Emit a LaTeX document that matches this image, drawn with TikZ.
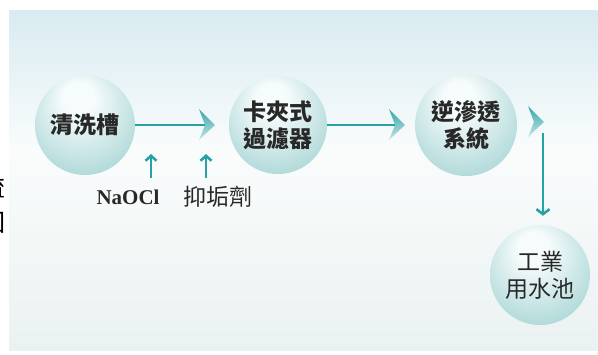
\documentclass[tikz,border=0pt]{standalone}
\usepackage{fontspec}
\setmainfont{Liberation Serif}
\newfontfamily\cjk{Noto Sans CJK TC}
\usetikzlibrary{arrows.meta}
\definecolor{flowc}{RGB}{38,162,166}
\definecolor{sphC}{RGB}{246,251,251}
\definecolor{sphM}{RGB}{158,208,208}
\definecolor{sphE}{RGB}{108,184,186}
\definecolor{bgtop}{RGB}{216,235,240}
\definecolor{bgmid}{RGB}{250,252,252}
\definecolor{bgbot}{RGB}{234,242,241}
\definecolor{txt}{RGB}{40,40,40}
\definecolor{chevT}{RGB}{50,165,168}
\definecolor{chevB}{RGB}{200,230,230}
\pgfdeclareradialshading{sphere}{\pgfpoint{-4bp}{16bp}}{color(0bp)=(sphC); color(8bp)=(sphC); color(38bp)=(sphM); color(50bp)=(sphE)}
\tikzset{
  ball/.style={circle, shading=sphere, inner sep=0pt, minimum size=100pt,
    align=center, text=txt, font=\cjk\bfseries\fontsize{23}{27}\selectfont},
  flow/.style={draw=flowc, line width=2.8pt},
  upflow/.style={draw=flowc, line width=2.6pt, -{Straight Barb[length=5pt,width=11pt]}},
  downflow/.style={draw=flowc, line width=2.6pt, -{Straight Barb[length=5pt,width=13pt]}},
  lbl/.style={text=txt, inner sep=0pt},
  frag/.style={text=black, inner sep=0pt, font=\cjk\fontsize{24}{24}\selectfont},
  chevhead/.pic={\shade[top color=chevT, bottom color=chevB, shading angle=0]
    (0,0) -- (-16,-16) -- (-10,0) -- (-16,15) -- cycle;}
}
\begin{document}
\begin{tikzpicture}[x=1pt,y=-1pt]
\useasboundingbox (0,0) rectangle (598,354);
% background panel
\shade[top color=bgtop, bottom color=bgmid] (9,10) rectangle (598,150);
\shade[top color=bgmid, bottom color=bgbot] (9,150) rectangle (598,350);
% cut-off text at the left edge
\node[frag] (f1) at (-6,187) {流};
\node[frag] (f2) at (-6,223) {回};
% stages
\node[ball] (c1) at (85,125) {清洗槽};
\node[ball, minimum size=98pt] (c2) at (278,125) {卡夾式\\過濾器};
\node[ball, minimum size=102pt] (c3) at (466,125) {逆滲透\\系統};
\node[ball, font=\cjk\fontsize{23}{27}\selectfont] (c4) at (540,275) {工業\\用水池};
% arrow heads
\coordinate (h1) at (215,125);
\coordinate (h2) at (405,125);
\coordinate (h3) at (544,122);
\pic at (h1) {chevhead};
\pic at (h2) {chevhead};
\pic at (h3) {chevhead};
% connectors
\draw[flow] (c1.east) -- ([xshift=-10pt]h1);
\draw[flow] (c2.east) -- ([xshift=-10pt]h2);
\coordinate (v0) at (543,133);
\draw[downflow, shorten >=9pt] (v0) -- (v0 |- c4.north);
% chemicals
\node[lbl, font=\bfseries\fontsize{21}{21}\selectfont] (na) at (128,197) {NaOCl};
\node[lbl, font=\cjk\fontsize{23}{23}\selectfont] (yg) at (218,197) {抑垢劑};
\coordinate (u1) at (151,178);
\coordinate (u2) at (206,178);
\draw[upflow] (u1) -- ++(0,-24);
\draw[upflow] (u2) -- ++(0,-24);
\end{tikzpicture}
\end{document}
